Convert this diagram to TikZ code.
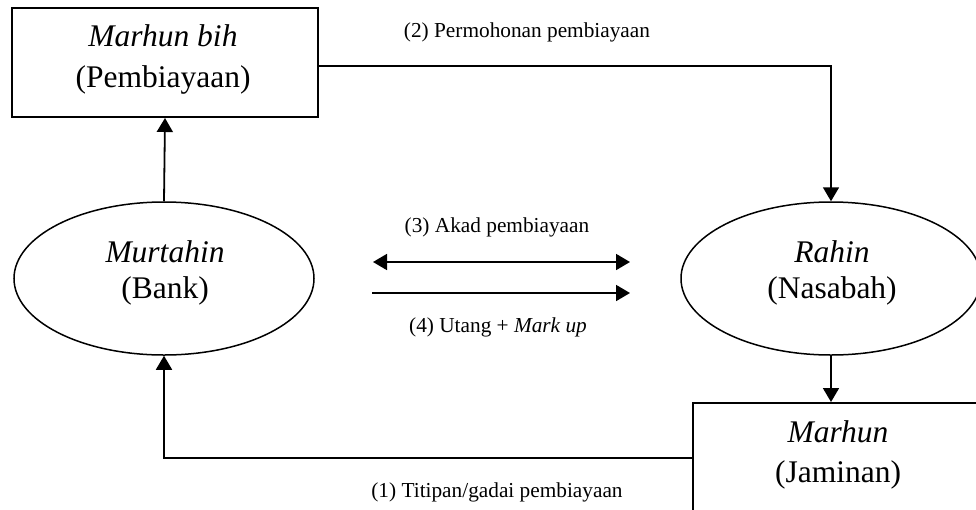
\documentclass[tikz,border=0pt]{standalone}
\usepackage{fontspec}
\setmainfont{Liberation Serif}
\usetikzlibrary{arrows.meta,shapes.geometric}
\begin{document}
\begin{tikzpicture}[x=1pt,y=-1pt,
  box/.style={draw,line width=2pt,rectangle,inner sep=0pt,anchor=north west},
  oval/.style={draw,line width=1.5pt,ellipse,inner sep=0pt,minimum width=300pt,minimum height=153pt},
  big/.style={font=\fontsize{31.5}{38}\selectfont,anchor=base,inner sep=0pt},
  small/.style={font=\fontsize{21.3}{25}\selectfont,inner sep=0pt},
  tip/.style={Triangle[length=14pt,width=16pt]},
  link/.style={line width=1.8pt,-{Triangle[length=14pt,width=16pt]}},
  dlink/.style={line width=1.8pt,{Triangle[length=14pt,width=16pt]}-{Triangle[length=14pt,width=16pt]}},
]
\useasboundingbox (0,0) rectangle (976,509);
\clip (0,0) rectangle (976,509);
\fill[white] (0,0) rectangle (976,509);

% boxes and ovals
\node[box,minimum width=306pt,minimum height=109pt] (tbox) at (11,7) {};
\node[box,minimum width=292pt,minimum height=110pt] (bbox) at (692,402) {};
\node[oval] (murtahin) at (164,278.5) {};
\node[oval] (rahin) at (831,278.5) {};

% texts inside the shapes
\node[big] (tbox-a) at (163,46.5) {\textit{Marhun bih}};
\node[big] (tbox-b) at (163,87) {(Pembiayaan)};
\node[big] (murtahin-a) at (165,262) {\textit{Murtahin}};
\node[big] (murtahin-b) at (165,298) {(Bank)};
\node[big] (rahin-a) at (832,262) {\textit{Rahin}};
\node[big] (rahin-b) at (832,298) {(Nasabah)};
\node[big] (bbox-a) at (838,442) {\textit{Marhun}};
\node[big] (bbox-b) at (838,482) {(Jaminan)};

% connectors
\draw[link] ([yshift=-3.5pt]tbox.east) -| (rahin.north);
\draw[link] (bbox.west) -| (murtahin.south);
\draw[link] (murtahin.north) -- (tbox.south);
\draw[link] (rahin.south) -- (rahin.south |- bbox.north);

\coordinate (akadL) at (373,262);
\coordinate (akadR) at (630,262);
\coordinate (utangL) at (372,293);
\coordinate (utangR) at (630,293);
\draw[dlink] (akadL) -- (akadR);
\draw[link] (utangL) -- (utangR);

% step labels
\node[small] (lbl2) at (527,32) {(2) Permohonan pembiayaan};
\node[small] (lbl3) at (497,227) {(3) Akad pembiayaan};
\node[small] (lbl4) at (498,327) {(4) Utang + \textit{Mark up}};
\node[small] (lbl1) at (497,492) {(1) Titipan/gadai pembiayaan};
\end{tikzpicture}
\end{document}
